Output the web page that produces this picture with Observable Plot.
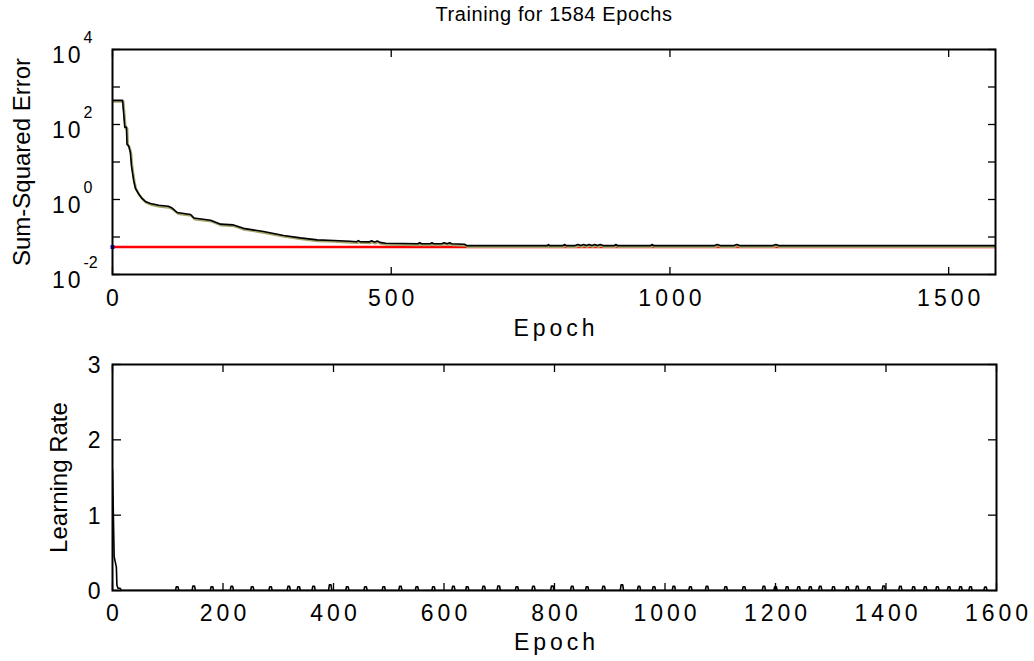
<!DOCTYPE html>
<html><head><meta charset="utf-8">
<script src="https://cdn.jsdelivr.net/npm/d3@7"></script>
<script src="https://cdn.jsdelivr.net/npm/@observablehq/plot@0.6"></script>
<style>
body{margin:0;background:#fff;}
#wrap{position:relative;width:1034px;height:661px;overflow:hidden;background:#fff;}
#wrap svg{position:absolute;left:0;display:block;}
text[aria-label="spaced"]{letter-spacing:4px}
text[aria-label="tens"]{letter-spacing:3px}
text[aria-label="title"]{letter-spacing:0.6px}
</style></head><body><div id="wrap"></div>
<script>
// ---------- data ----------
const titleText = "Training for 1584 Epochs";
const totalEpochs = 1584;
const goalValue = 0.054;

const errEpoch = [0, 18, 20, 22, 25, 26, 29, 32, 33, 34,
  36, 38, 41, 47, 53, 59, 68, 83, 100, 107,
  116, 140, 146, 176, 194, 217, 235, 271, 307, 337,
  367, 397, 426, 438, 441, 444, 460, 465, 470, 475,
  480, 490, 520, 548, 551, 554, 570, 573, 576, 590,
  595, 600, 605, 608, 632, 635, 780, 782, 784, 808,
  811, 814, 830, 835, 840, 845, 850, 855, 860, 865,
  870, 875, 880, 900, 903, 906, 965, 968, 971, 1080,
  1085, 1090, 1115, 1120, 1125, 1185, 1190, 1195, 1584];
const errValue = [440, 440, 200, 85, 85, 30, 27, 18, 12, 8,
  5, 3.2, 2.0, 1.4, 1.07, 0.89, 0.78, 0.70, 0.66, 0.59,
  0.45, 0.40, 0.32, 0.28, 0.22, 0.21, 0.17, 0.14, 0.11, 0.095,
  0.084, 0.081, 0.077, 0.075, 0.080, 0.075, 0.074, 0.079, 0.073, 0.078,
  0.072, 0.068, 0.067, 0.066, 0.071, 0.066, 0.066, 0.070, 0.066, 0.066,
  0.070, 0.066, 0.070, 0.066, 0.064, 0.059, 0.059, 0.063, 0.059, 0.059,
  0.063, 0.059, 0.059, 0.063, 0.059, 0.063, 0.059, 0.063, 0.059, 0.063,
  0.059, 0.063, 0.059, 0.059, 0.063, 0.059, 0.059, 0.063, 0.059, 0.059,
  0.063, 0.059, 0.059, 0.063, 0.059, 0.059, 0.063, 0.059, 0.059];

const errXTicks = [0, 500, 1000, 1500];
const errYTicks = [1e-2, 1e-1, 1, 10, 100, 1000, 1e4];
const errYLabelExps = [-2, 0, 2, 4];

const lrStartEpoch = [0, 3, 5, 7, 8, 10, 14, 16];
const lrStartValue = [1.6, 0.45, 0.38, 0.31, 0.07, 0.03, 0.03, 0];
const spikeEpochs = [117, 147, 180, 216, 253, 286, 319, 337, 364, 394,
  425, 458, 491, 521, 551, 581, 617, 642, 672, 699,
  732, 762, 796, 832, 859, 889, 922, 953, 980, 1016,
  1046, 1076, 1110, 1143, 1179, 1200, 1221, 1242, 1263, 1281,
  1305, 1330, 1348, 1369, 1396, 1426, 1450, 1471, 1493, 1514,
  1535, 1553, 1580];
const spikeHeights = [0.05, 0.06, 0.05, 0.055, 0.05, 0.05, 0.055, 0.05, 0.055, 0.075,
  0.05, 0.05, 0.05, 0.055, 0.05, 0.05, 0.055, 0.05, 0.055, 0.06,
  0.05, 0.055, 0.06, 0.055, 0.05, 0.055, 0.075, 0.055, 0.05, 0.055,
  0.05, 0.055, 0.05, 0.05, 0.055, 0.05, 0.05, 0.05, 0.05, 0.055,
  0.05, 0.05, 0.055, 0.05, 0.06, 0.055, 0.05, 0.05, 0.05, 0.05,
  0.05, 0.05, 0.045];
const lrXTicks = [0, 200, 400, 600, 800, 1000, 1200, 1400, 1600];
const lrYTicks = [0, 1, 2, 3];

// ---------- build tables ----------
const errData = errEpoch.map((e, i) => ({epoch: e, value: errValue[i]}));
const lrData = lrStartEpoch.map((e, i) => ({epoch: e, value: lrStartValue[i]}));
spikeEpochs.forEach((e, i) => {
  const h = spikeHeights[i];
  lrData.push({epoch: e - 3, value: 0}, {epoch: e - 1.5, value: h}, {epoch: e + 1.5, value: h}, {epoch: e + 3, value: 0});
});
lrData.push({epoch: totalEpochs, value: 0});
lrData.sort((a, b) => a.epoch - b.epoch);

const font = '"Liberation Sans", Arial, Helvetica, sans-serif';
const wrap = document.getElementById("wrap");
const spaced = () => "spaced";

// ---------- top chart ----------
const topChart = Plot.plot({
  width: 1034, height: 340,
  marginTop: 49, marginBottom: 66, marginLeft: 112, marginRight: 39,
  style: {fontFamily: font, fontSize: "23px", background: "transparent", color: "black", overflow: "visible"},
  x: {domain: [0, totalEpochs], axis: null},
  y: {type: "log", domain: [1e-2, 1e4], axis: null},
  marks: [
    Plot.axisX(errXTicks, {anchor: "bottom", tickSize: -7, tickFormat: () => "", label: null, strokeWidth: 1.3}),
    Plot.axisX(errXTicks, {anchor: "top", tickSize: -7, tickFormat: () => "", label: null, strokeWidth: 1.3}),
    Plot.axisY(errYTicks, {anchor: "left", tickSize: -8, tickFormat: () => "", label: null, strokeWidth: 1.3}),
    Plot.axisY(errYTicks, {anchor: "right", tickSize: -8, tickFormat: () => "", label: null, strokeWidth: 1.3}),
    Plot.ruleY([goalValue], {x1: 0, x2: totalEpochs, stroke: "red", strokeWidth: 2.5}),
    Plot.line(errData, {x: "epoch", y: "value", stroke: "#a5a56b", strokeWidth: 2.4, dx: 0.8, dy: 1.2, clip: true}),
    Plot.line(errData, {x: "epoch", y: "value", stroke: "black", strokeWidth: 1.6, clip: true}),
    Plot.dot([goalValue], {x: () => 0, y: d => d, fill: "blue", stroke: "none", r: 2.2, symbol: "square"}),
    Plot.frame({stroke: "black", strokeWidth: 2}),
    Plot.text(errXTicks, {x: d => d, text: d => String(d), frameAnchor: "bottom", lineAnchor: "middle", dy: 24.5, dx: 2, ariaLabel: spaced, fontSize: 23}),
    Plot.text(errYLabelExps, {y: e => 10 ** e, text: () => "10", frameAnchor: "left", textAnchor: "end", lineAnchor: "middle", dx: -29, dy: 6, ariaLabel: () => "tens", fontSize: 23}),
    Plot.text(errYLabelExps, {y: e => 10 ** e, text: e => String(e), frameAnchor: "left", textAnchor: "start", lineAnchor: "middle", dx: -29, dy: -12, fontSize: 16}),
    Plot.text(["Sum-Squared Error"], {frameAnchor: "left", textAnchor: "middle", lineAnchor: "middle", rotate: -90, dx: -90, fontSize: 24}),
    Plot.text(["Epoch"], {frameAnchor: "bottom", lineAnchor: "middle", dy: 54, dx: 2, ariaLabel: spaced, fontSize: 23}),
    Plot.text([titleText], {frameAnchor: "top", lineAnchor: "middle", dy: -35, ariaLabel: () => "title", fontSize: 20})
  ]
});
topChart.style.top = "0px";
wrap.appendChild(topChart);

// ---------- bottom chart ----------
const bottomChart = Plot.plot({
  width: 1034, height: 321,
  marginTop: 24, marginBottom: 71, marginLeft: 112, marginRight: 38,
  style: {fontFamily: font, fontSize: "23px", background: "transparent", color: "black", overflow: "visible"},
  x: {domain: [0, 1600], axis: null},
  y: {domain: [0, 3], axis: null},
  marks: [
    Plot.axisX(lrXTicks, {anchor: "bottom", tickSize: -7, tickFormat: () => "", label: null, strokeWidth: 1.3}),
    Plot.axisX(lrXTicks, {anchor: "top", tickSize: -7, tickFormat: () => "", label: null, strokeWidth: 1.3}),
    Plot.axisY(lrYTicks, {anchor: "left", tickSize: -9, tickFormat: () => "", label: null, strokeWidth: 1.3}),
    Plot.axisY(lrYTicks, {anchor: "right", tickSize: -9, tickFormat: () => "", label: null, strokeWidth: 1.3}),
    Plot.line(lrData, {x: "epoch", y: "value", stroke: "black", strokeWidth: 1.6, clip: true}),
    Plot.frame({stroke: "black", strokeWidth: 2}),
    Plot.text(lrXTicks, {x: d => d, text: d => String(d), frameAnchor: "bottom", lineAnchor: "middle", dy: 23.5, dx: 2, ariaLabel: spaced, fontSize: 23}),
    Plot.text(lrYTicks, {y: d => d, text: d => String(d), frameAnchor: "left", textAnchor: "end", lineAnchor: "middle", dx: -12, dy: 1, fontSize: 23}),
    Plot.text(["Learning Rate"], {frameAnchor: "left", textAnchor: "middle", lineAnchor: "middle", rotate: -90, dx: -53, fontSize: 24}),
    Plot.text(["Epoch"], {frameAnchor: "bottom", lineAnchor: "middle", dy: 52, dx: 2, ariaLabel: spaced, fontSize: 23})
  ]
});
bottomChart.style.top = "340px";
wrap.appendChild(bottomChart);
</script>
</body></html>
